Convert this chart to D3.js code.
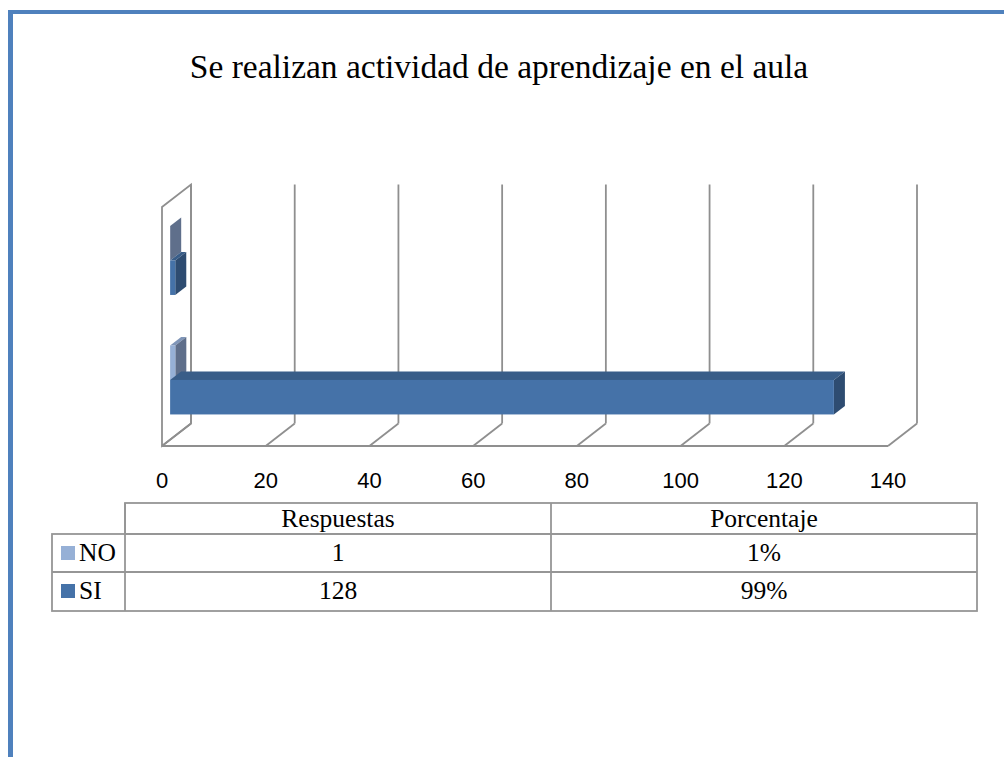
<!DOCTYPE html>
<html>
<head>
<meta charset="utf-8">
<script src="https://cdn.jsdelivr.net/npm/d3@7"></script>
<style>
  body { margin: 0; background: #fff; }
  svg { display: block; }
</style>
</head>
<body>
<div id="chart"></div>
<script>
const categories = ["Respuestas", "Porcentaje"];
const seriesNames = ["NO", "SI"];
const noValues = [1, 0.01];
const siValues = [128, 0.99];
const tableNo = ["1", "1%"];
const tableSi = ["128", "99%"];
const xTicks = [0, 20, 40, 60, 80, 100, 120, 140];
const title = "Se realizan actividad de aprendizaje en el aula";

const width = 1004, height = 757;
const svg = d3.select("#chart").append("svg")
    .attr("width", width).attr("height", height);

// frame (blue border left + top)
svg.append("rect").attr("x", 8).attr("y", 10).attr("width", width - 8).attr("height", 4).attr("fill", "#4f81bd");
svg.append("rect").attr("x", 8).attr("y", 10).attr("width", 5).attr("height", height - 10).attr("fill", "#4f81bd");

const serif = "Liberation Serif, Times New Roman, serif";

svg.append("text")
    .attr("x", 499).attr("y", 78)
    .attr("text-anchor", "middle")
    .style("font-family", serif)
    .style("font-size", "33.5px")
    .text(title);

// 3D geometry
const depth = {dx: 29, dy: -22.5};
const front0 = 0.28, front1 = 0.66;
const x = d3.scaleLinear().domain([0, 140]).range([162, 888]);
const y = d3.scaleBand().domain(categories.slice().reverse()).range([207, 446]);
const ySub = d3.scaleBand().domain(seriesNames).range([0, y.bandwidth()]).paddingOuter(0.732);

const grid = svg.append("g")
    .attr("fill", "none").attr("stroke", "#8f8f8f").attr("stroke-width", 1.8);
const plotTop = y.range()[0], plotBottom = y.range()[1];

// side wall
grid.append("path").attr("d",
    `M${x(0)},${plotTop} L${x(0) + depth.dx},${plotTop + depth.dy} L${x(0) + depth.dx},${plotBottom + depth.dy} L${x(0)},${plotBottom} Z`);
// back wall verticals + floor diagonals
xTicks.forEach(t => {
    grid.append("line")
        .attr("x1", x(t) + depth.dx).attr("y1", plotTop + depth.dy)
        .attr("x2", x(t) + depth.dx).attr("y2", plotBottom + depth.dy);
    grid.append("line")
        .attr("x1", x(t)).attr("y1", plotBottom)
        .attr("x2", x(t) + depth.dx).attr("y2", plotBottom + depth.dy);
});
grid.append("line").attr("x1", x(0)).attr("y1", plotBottom).attr("x2", x(140)).attr("y2", plotBottom);

// axis labels
svg.append("g").selectAll("text").data(xTicks).join("text")
    .attr("x", d => x(d)).attr("y", 488)
    .attr("text-anchor", "middle")
    .style("font-family", "Liberation Sans, Arial, sans-serif")
    .style("font-size", "22px")
    .text(d => d);

// bars
const colors = {
    NO: {front: "#96b0d6", top: "#7f95b8", side: "#5f6f8b"},
    SI: {front: "#4572a8", top: "#395d88", side: "#2e4c71"}
};
const bars = [];
categories.slice().reverse().forEach(c => {
    const ci = categories.indexOf(c);
    bars.push({cat: c, s: "NO", v: noValues[ci]});
    bars.push({cat: c, s: "SI", v: siValues[ci]});
});

const fx = depth.dx * front0, fy = depth.dy * front0;
const bx = depth.dx * front1, by = depth.dy * front1;
const barG = svg.append("g");
bars.forEach(b => {
    const y0 = y(b.cat) + ySub(b.s) + fy;
    const y1 = y0 + ySub.bandwidth();
    const x0 = x(0) + fx;
    const x1 = x(b.v) + fx;
    const ddx = bx - fx, ddy = by - fy;
    const c = colors[b.s];
    // top face
    barG.append("path").attr("fill", c.top)
        .attr("d", `M${x0},${y0} L${x0 + ddx},${y0 + ddy} L${x1 + ddx},${y0 + ddy} L${x1},${y0} Z`);
    // end face
    barG.append("path").attr("fill", c.side)
        .attr("d", `M${x1},${y0} L${x1 + ddx},${y0 + ddy} L${x1 + ddx},${y1 + ddy} L${x1},${y1} Z`);
    // front face
    barG.append("rect").attr("fill", c.front)
        .attr("x", x0).attr("y", y0).attr("width", x1 - x0).attr("height", y1 - y0);
});

// data table
const tx = [52, 125, 551, 977];
const ty = [503, 534, 572, 611];
const tab = svg.append("g").attr("stroke", "#969696").attr("stroke-width", 1.8).attr("fill", "none");
tab.append("rect").attr("x", tx[1]).attr("y", ty[0]).attr("width", tx[3] - tx[1]).attr("height", ty[1] - ty[0]);
tab.append("rect").attr("x", tx[0]).attr("y", ty[1]).attr("width", tx[3] - tx[0]).attr("height", ty[3] - ty[1]);
tab.append("line").attr("x1", tx[0]).attr("x2", tx[3]).attr("y1", ty[2]).attr("y2", ty[2]);
[tx[1], tx[2]].forEach(v => tab.append("line").attr("x1", v).attr("x2", v).attr("y1", ty[0]).attr("y2", ty[3]));

const cellText = (cx, cy, str, anchor) => svg.append("text")
    .attr("x", cx).attr("y", cy).attr("text-anchor", anchor || "middle")
    .style("font-family", serif).style("font-size", "25.5px").text(str);

cellText((tx[1] + tx[2]) / 2, 527, categories[0]);
cellText((tx[2] + tx[3]) / 2, 527, categories[1]);
const rows = [{name: "NO", vals: tableNo, base: 561}, {name: "SI", vals: tableSi, base: 599}];
rows.forEach((r, i) => {
    svg.append("rect").attr("x", 61).attr("y", r.base - 15).attr("width", 14).attr("height", 14)
        .attr("fill", colors[r.name].front);
    cellText(79, r.base, r.name, "start");
    cellText((tx[1] + tx[2]) / 2, r.base, r.vals[0]);
    cellText((tx[2] + tx[3]) / 2, r.base, r.vals[1]);
});
</script>
</body>
</html>
